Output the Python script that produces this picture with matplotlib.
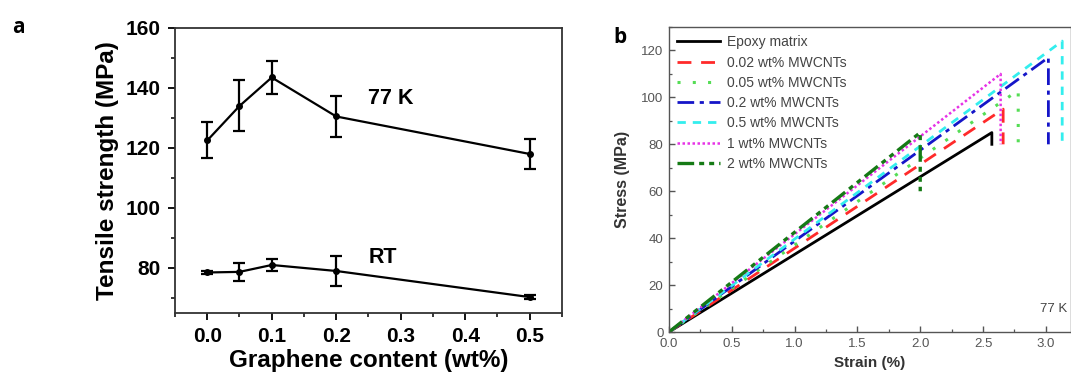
import matplotlib
matplotlib.use("Agg")
import matplotlib.pyplot as plt
from matplotlib.ticker import MultipleLocator

# ---------------- Panel a data ----------------
graphene_wt = [0.0, 0.05, 0.1, 0.2, 0.5]
ts_77K = [122.5, 134.0, 143.5, 130.5, 118.0]
ts_77K_err = [6.0, 8.5, 5.5, 6.8, 5.0]
ts_RT = [78.5, 78.7, 81.0, 79.0, 70.3]
ts_RT_err = [0.5, 3.0, 2.0, 5.0, 0.7]

# ---------------- Panel b data ----------------
labels_b = ["Epoxy matrix", "0.02 wt% MWCNTs", "0.05 wt% MWCNTs", "0.2 wt% MWCNTs",
            "0.5 wt% MWCNTs", "1 wt% MWCNTs", "2 wt% MWCNTs"]
strain_break = [2.57, 2.66, 2.78, 3.02, 3.13, 2.64, 2.0]
stress_break = [85.0, 95.0, 103.0, 117.0, 124.0, 110.0, 85.0]
stress_after = [80.0, 80.0, 80.0, 80.0, 80.0, 80.0, 60.0]

colors_b = ["#000000", "#ff2a2a", "#55dd55", "#1515c8", "#33eeee", "#e633e6", "#157a15"]
styles_b = ["-", (0, (5, 3.5)), (0, (1, 4)), (0, (6, 2, 1.5, 2)), (0, (3, 2.5)),
            (0, (1, 1)), (0, (5, 1.5, 1.5, 1.5, 1.5, 1.5))]
widths_b = [2.0, 2.0, 2.2, 2.0, 2.0, 1.8, 2.4]

fig = plt.figure(figsize=(10.71, 3.73), dpi=100)

# ---------------- Panel a ----------------
ax1 = fig.add_axes([0.1634, 0.1609, 0.5247 - 0.1634, 0.925 - 0.1609])
for vals, errs in [(ts_77K, ts_77K_err), (ts_RT, ts_RT_err)]:
    ax1.errorbar(graphene_wt, vals, yerr=errs, color="black", lw=1.6, marker="o",
                 ms=4, capsize=4, capthick=1.6, elinewidth=1.6)
ax1.set_xlim(-0.05, 0.55)
ax1.set_ylim(65, 160)
ax1.xaxis.set_minor_locator(MultipleLocator(0.05))
ax1.yaxis.set_major_locator(MultipleLocator(20))
ax1.yaxis.set_minor_locator(MultipleLocator(10))
ax1.set_xticks([0.0, 0.1, 0.2, 0.3, 0.4, 0.5])
ax1.set_xticklabels(["0.0", "0.1", "0.2", "0.3", "0.4", "0.5"])
ax1.tick_params(which="major", direction="out", length=5, width=1.3, labelsize=15, pad=5)
ax1.tick_params(which="minor", direction="out", length=3, width=1.1)
for lab in ax1.get_xticklabels() + ax1.get_yticklabels():
    lab.set_fontweight("bold")
    lab.set_family("Liberation Sans")
for sp in ax1.spines.values():
    sp.set_linewidth(1.3)
    sp.set_color("#333333")
ax1.set_xlabel("Graphene content (wt%)", fontsize=17.5, fontweight="bold",
               family="Liberation Sans", labelpad=2)
ax1.set_ylabel("Tensile strength (MPa)", fontsize=17.5, fontweight="bold",
               family="Liberation Sans", labelpad=5)
ax1.text(0.285, 136.5, "77 K", fontsize=15.5, fontweight="bold", ha="center", va="center",
         family="Liberation Sans")
ax1.text(0.272, 83.5, "RT", fontsize=15.5, fontweight="bold", ha="center", va="center",
         family="Liberation Sans")
fig.text(0.011, 0.925, "a", fontsize=15, fontweight="bold", family="Open Sans",
         va="center", ha="left")

# ---------------- Panel b ----------------
ax2 = fig.add_axes([0.6246, 0.1099, 1.0 - 0.6246, 0.9276 - 0.1099])
for lab, eb, sb, sa, c, ls, lw in zip(labels_b, strain_break, stress_break, stress_after,
                                      colors_b, styles_b, widths_b):
    ax2.plot([0.0, eb, eb], [0.0, sb, sa], color=c, ls=ls, lw=lw, label=lab)
ax2.set_xlim(0, 3.2)
ax2.set_ylim(0, 130)
ax2.xaxis.set_major_locator(MultipleLocator(0.5))
ax2.xaxis.set_minor_locator(MultipleLocator(0.25))
ax2.yaxis.set_major_locator(MultipleLocator(20))
ax2.yaxis.set_minor_locator(MultipleLocator(10))
ax2.tick_params(which="major", direction="in", length=4, width=1.0, labelsize=9.5,
                colors="#555555")
ax2.tick_params(axis="x", which="major", pad=4.5)
ax2.tick_params(axis="y", which="major", pad=4)
ax2.tick_params(which="minor", direction="in", length=2, width=0.9, colors="#555555")
for lab in ax2.get_xticklabels() + ax2.get_yticklabels():
    lab.set_family("Liberation Sans")
for sp in ax2.spines.values():
    sp.set_linewidth(1.0)
    sp.set_color("#555555")
ax2.set_xlabel("Strain (%)", fontsize=11, fontweight="bold", family="Liberation Sans",
               color="#333333", labelpad=4)
ax2.set_ylabel("Stress (MPa)", fontsize=11.5, fontweight="bold", family="Liberation Sans",
               color="#333333", labelpad=8)
ax2.text(3.17, 10, "77 K", fontsize=9.5, color="#444444", ha="right", va="center",
         family="Liberation Sans")
leg = ax2.legend(loc="upper left", bbox_to_anchor=(0.0, 1.0), frameon=False,
                 handlelength=3.1, handletextpad=0.45, labelspacing=0.45,
                 borderaxespad=0.25, borderpad=0.35,
                 prop={"family": "Liberation Sans", "size": 10})
for t in leg.get_texts():
    t.set_color("#444444")
fig.text(0.573, 0.9, "b", fontsize=15, fontweight="bold", family="Open Sans",
         va="center", ha="left")

fig.savefig("out.png", dpi=100)
